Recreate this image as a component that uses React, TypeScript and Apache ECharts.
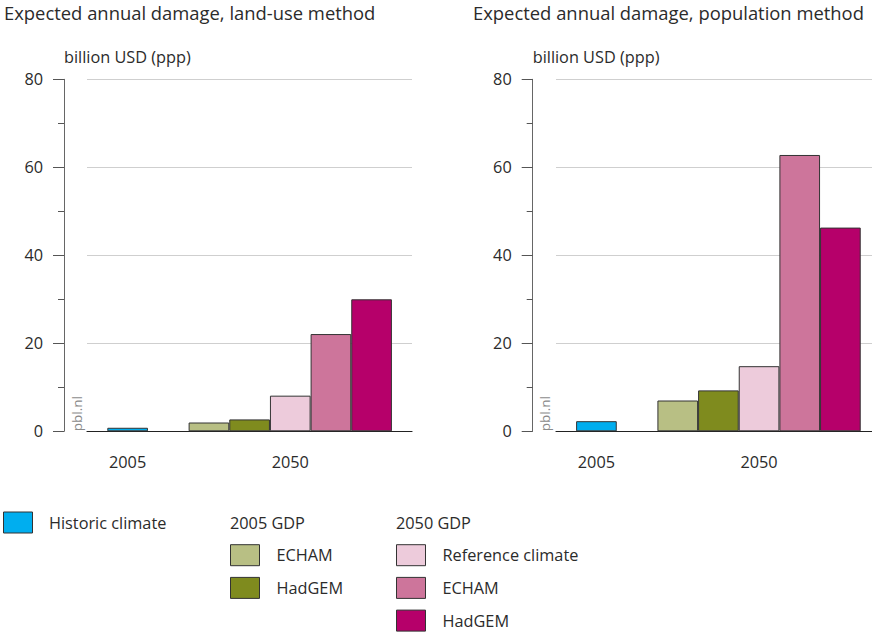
import React, { useEffect, useRef } from "react";
import * as echarts from "echarts";

// ---- data ----
const scenarioNames = [
  "Historic climate",
  "ECHAM",
  "HadGEM",
  "Reference climate",
  "ECHAM",
  "HadGEM",
];
const scenarioGroups = ["", "2005 GDP", "2005 GDP", "2050 GDP", "2050 GDP", "2050 GDP"];
const scenarioColors = ["#00AEEF", "#B8BF84", "#7F8B1E", "#EDCBDB", "#CD759B", "#B6006A"];
const landUseValues = [0.8, 2.0, 2.7, 8.1, 22.1, 30.0];
const populationValues = [2.3, 7.0, 9.3, 14.8, 62.8, 46.3];
// bar slots along the x axis: scenario index, or -1 for an empty slot
const slotScenario = [0, -1, 1, 2, 3, 4, 5];
const slotTickLabels = ["2005", "", "", "", "2050", "", ""];
const yTicks = [0, 20, 40, 60, 80];
const panelTitles = [
  "Expected annual damage, land-use method",
  "Expected annual damage, population method",
];
const unitLabel = "billion USD (ppp)";

const FONT = "'Open Sans', 'Noto Sans', sans-serif";
const TXT = "#2b2b2b";
const FS = 16.3;

export default function App() {
  const ref = useRef<HTMLDivElement>(null);
  useEffect(() => {
    if (!ref.current) return;
    const chart = echarts.init(ref.current, undefined, { renderer: "svg" });

    const panels = [
      { frameLeft: 87, frameWidth: 325, barLeft: 107.3, values: landUseValues, axisX: 64 },
      { frameLeft: 556, frameWidth: 316, barLeft: 576.1, values: populationValues, axisX: 532.7 },
    ];
    const slotW = 40.66;
    const top = 79.3;
    const height = 352;

    const grids: any[] = [];
    const xAxes: any[] = [];
    const yAxes: any[] = [];
    const series: any[] = [];
    const graphics: any[] = [];

    panels.forEach((p, i) => {
      const frameIdx = grids.length;
      grids.push({ left: p.frameLeft, top, width: p.frameWidth, height, containLabel: false });
      const barIdx = grids.length;
      grids.push({ left: p.barLeft, top, width: slotW * slotScenario.length, height, containLabel: false });

      // frame axes
      xAxes.push({
        gridIndex: frameIdx,
        type: "value",
        min: 0,
        max: 1,
        axisLine: { show: true, onZero: false, lineStyle: { color: "#222", width: 1.2 } },
        axisTick: { show: false },
        axisLabel: { show: false },
        splitLine: { show: false },
      });
      yAxes.push({
        gridIndex: frameIdx,
        type: "value",
        min: 0,
        max: yTicks[yTicks.length - 1],
        interval: 20,
        offset: p.frameLeft - p.axisX,
        name: unitLabel,
        nameLocation: "end",
        nameGap: 22,
        nameTextStyle: { align: "left", verticalAlign: "middle", fontFamily: FONT, fontSize: FS, color: TXT },
        axisLine: { show: true, onZero: false, lineStyle: { color: "#666", width: 1 } },
        axisTick: { show: true, length: 11, lineStyle: { color: "#555" } },
        minorTick: { show: true, splitNumber: 2, length: 6, lineStyle: { color: "#555" } },
        axisLabel: { margin: 21, fontFamily: FONT, fontSize: FS, color: TXT },
        splitLine: { show: true, lineStyle: { color: "#cfcfcf", width: 1 } },
      });

      // bar axes
      xAxes.push({
        gridIndex: barIdx,
        type: "category",
        data: slotScenario.map((_, k) => "slot" + k),
        axisLine: { show: false },
        axisTick: { show: false },
        axisLabel: {
          interval: 0,
          margin: 23,
          fontFamily: FONT,
          fontSize: FS,
          color: TXT,
          formatter: (_v: string, idx: number) => slotTickLabels[idx],
        },
        splitLine: { show: false },
      });
      yAxes.push({
        gridIndex: barIdx,
        type: "value",
        min: 0,
        max: yTicks[yTicks.length - 1],
        show: false,
      });

      series.push({
        type: "bar",
        xAxisIndex: barIdx,
        yAxisIndex: barIdx,
        barCategoryGap: "0%",
        data: slotScenario.map((s) =>
          s < 0
            ? "-"
            : {
                value: p.values[s],
                itemStyle: { color: scenarioColors[s], borderColor: "#333", borderWidth: 1 },
              }
        ),
      });

      graphics.push({
        type: "text",
        left: i === 0 ? 4 : 473,
        top: 3,
        style: { text: panelTitles[i], fontFamily: FONT, fontSize: 18.4, fill: TXT },
      });
      graphics.push({
        type: "text",
        x: p.axisX + 12.5,
        y: top + height,
        rotation: Math.PI / 2,
        style: {
          text: "pbl.nl",
          fontFamily: FONT,
          fontSize: 13.5,
          fill: "#8a8a8a",
          textAlign: "left",
          textVerticalAlign: "middle",
        },
      });
    });

    // legend (custom layout)
    const colX = [3.5, 230.5, 396.5];
    const groupCols: Record<string, number> = { "": 0, "2005 GDP": 1, "2050 GDP": 2 };
    const rowCount: Record<string, number> = { "": 0, "2005 GDP": 1, "2050 GDP": 1 };
    ["2005 GDP", "2050 GDP"].forEach((g) => {
      graphics.push({
        type: "text",
        x: colX[groupCols[g]] - 0.5,
        y: 522.5,
        style: { text: g, fontFamily: FONT, fontSize: FS, fill: TXT, textVerticalAlign: "middle" },
      });
    });
    scenarioNames.forEach((n, s) => {
      const g = scenarioGroups[s];
      const c = groupCols[g];
      const r = rowCount[g]++;
      const y = 512 + r * 32.7;
      graphics.push({
        type: "rect",
        shape: { x: colX[c], y, width: 29, height: 21 },
        style: { fill: scenarioColors[s], stroke: "#333", lineWidth: 1 },
      });
      graphics.push({
        type: "text",
        x: colX[c] + (c === 0 ? 45.5 : 46),
        y: y + 10.5,
        style: { text: n, fontFamily: FONT, fontSize: FS, fill: TXT, textVerticalAlign: "middle" },
      });
    });

    chart.setOption({
      animation: false,
      grid: grids,
      xAxis: xAxes,
      yAxis: yAxes,
      series,
      graphic: graphics,
    });
    return () => chart.dispose();
  }, []);

  return <div ref={ref} style={{ width: 872, height: 632, position: "absolute", left: 0, top: 0 }} />;
}
